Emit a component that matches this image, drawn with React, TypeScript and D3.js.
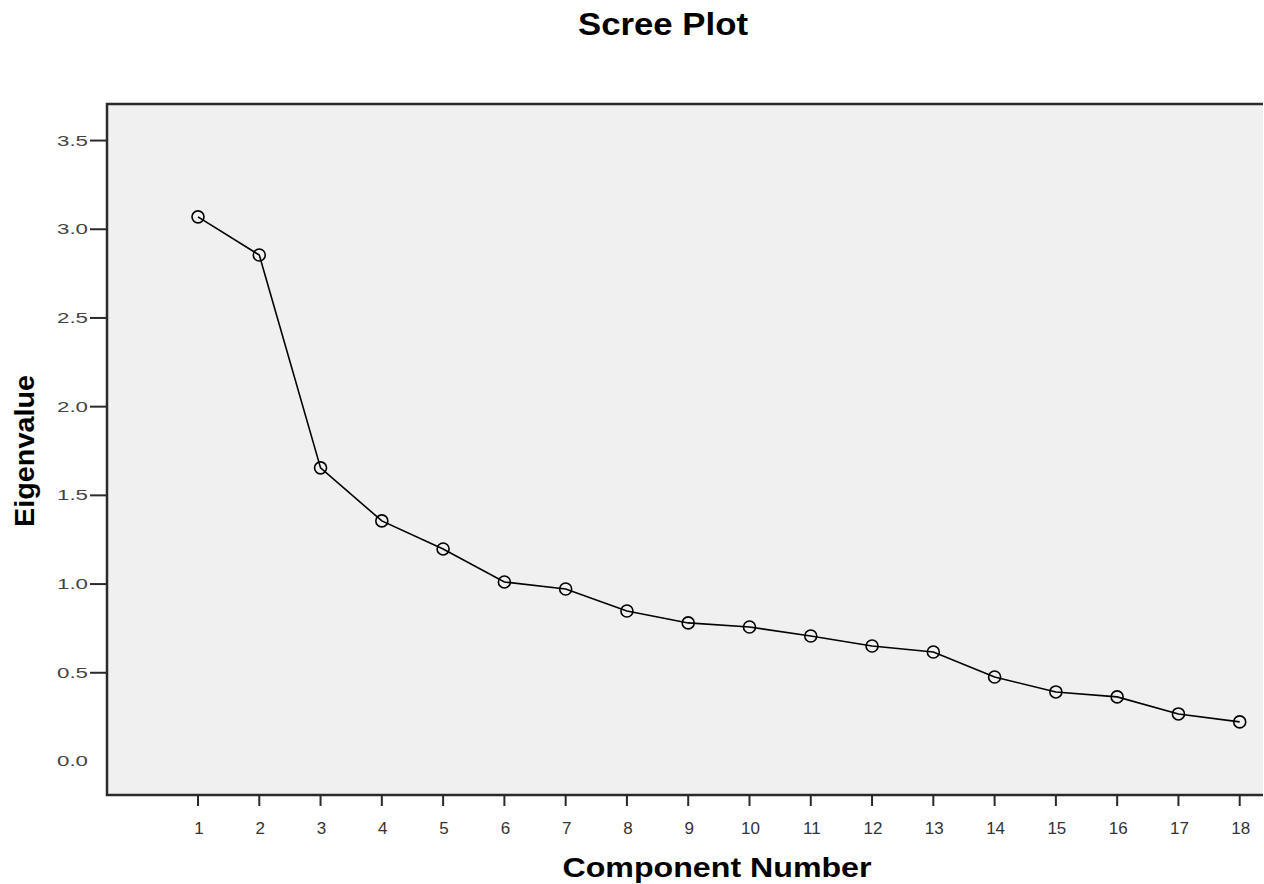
import React from "react";
import * as d3 from "d3";

const components = [1, 2, 3, 4, 5, 6, 7, 8, 9, 10, 11, 12, 13, 14, 15, 16, 17, 18];
const eigenvalues = [3.07, 2.855, 1.655, 1.356, 1.198, 1.012, 0.972, 0.848, 0.781, 0.758, 0.707, 0.651, 0.617, 0.476, 0.392, 0.364, 0.268, 0.223];
const yTicks = [0, 0.5, 1.0, 1.5, 2.0, 2.5, 3.0, 3.5];
const yTickLabels = ["0.0", "0.5", "1.0", "1.5", "2.0", "2.5", "3.0", "3.5"];
const title = "Scree Plot";
const xTitle = "Component Number";
const yTitle = "Eigenvalue";

const W = 1264;
const H = 884;
const plot = { left: 107, top: 104, right: 1263, bottom: 795 };

export default function App() {
  const x = d3.scaleLinear().domain([-0.485, 18.38]).range([plot.left, plot.right]);
  const y = d3.scaleLinear().domain([-0.189, 3.706]).range([plot.bottom, plot.top]);
  const line = d3
    .line<number>()
    .x((_, i) => x(components[i]))
    .y((d) => y(d));
  const font = "'Liberation Sans', Arial, Helvetica, sans-serif";

  return (
    <svg
      width={W}
      height={H}
      style={{ position: "absolute", left: 0, top: 0, background: "#fff" }}
      fontFamily={font}
    >
      <text x={663} y={35} textAnchor="middle" fontSize={32} fontWeight="bold" textLength={170} lengthAdjust="spacingAndGlyphs" fill="#000">
        {title}
      </text>
      <rect x={plot.left} y={plot.top} width={plot.right - plot.left} height={plot.bottom - plot.top} fill="#f0f0f0" />
      <path
        d={`M${plot.right},${plot.top}H${plot.left}V${plot.bottom}H${plot.right}`}
        fill="none"
        stroke="#2a2a2a"
        strokeWidth={2.5}
      />
      {yTicks.map((t, i) => (
        <g key={"y" + i}>
          {t > 0 && <line x1={90} x2={plot.left} y1={y(t)} y2={y(t)} stroke="#2a2a2a" strokeWidth={2} />}
          <text x={88} y={y(t) + 5} textAnchor="end" fontSize={15} fill="#444" textLength={31} lengthAdjust="spacingAndGlyphs">
            {yTickLabels[i]}
          </text>
        </g>
      ))}
      {components.map((c) => (
        <g key={"x" + c}>
          <line x1={x(c)} x2={x(c)} y1={plot.bottom} y2={806} stroke="#2a2a2a" strokeWidth={2} />
          <text x={x(c) + 1} y={834} textAnchor="middle" fontSize={17} fill="#333">
            {String(c)}
          </text>
        </g>
      ))}
      <text x={717} y={877} textAnchor="middle" fontSize={28} fontWeight="bold" textLength={309} lengthAdjust="spacingAndGlyphs" fill="#000">
        {xTitle}
      </text>
      <text
        transform={`translate(34,451) rotate(-90)`}
        textAnchor="middle"
        fontSize={28}
        fontWeight="bold"
        textLength={152}
        lengthAdjust="spacingAndGlyphs"
        fill="#000"
      >
        {yTitle}
      </text>
      <path d={line(eigenvalues) || ""} fill="none" stroke="#000" strokeWidth={1.6} />
      {eigenvalues.map((v, i) => (
        <circle key={"p" + i} cx={x(components[i])} cy={y(v)} r={6} fill="none" stroke="#000" strokeWidth={1.6} />
      ))}
    </svg>
  );
}
